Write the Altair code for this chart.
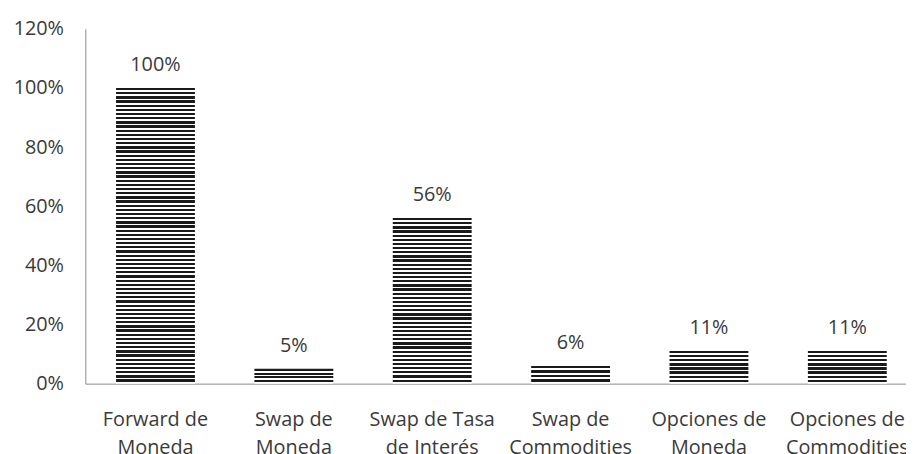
import altair as alt
import pandas as pd

categories = ["Forward de\nMoneda", "Swap de\nMoneda", "Swap de Tasa\nde Interés",
              "Swap de\nCommodities", "Opciones de\nMoneda", "Opciones de\nCommodities"]
values = [1.00, 0.05, 0.56, 0.06, 0.11, 0.11]
y_ticks = [0, 0.2, 0.4, 0.6, 0.8, 1.0, 1.2]

df = pd.DataFrame({"cat": categories, "val": values})

FONT = "Open Sans"
TXT = "#3a3a3a"
FS = 20
PLOT_H = 358
STRIPE_PX = 4.2


def stripe_gradient(v):
    h = v / 1.2 * PLOT_H
    n = max(1, round(h / STRIPE_PX))
    stops = []
    for i in range(n):
        a = i / n
        b = (i + 0.55) / n
        c = (i + 1) / n
        stops += [{"offset": a, "color": "#1a1a1a"}, {"offset": b, "color": "#1a1a1a"},
                  {"offset": b, "color": "#ffffff"}, {"offset": c, "color": "#ffffff"}]
    return {"gradient": "linear", "x1": 0, "y1": 0, "x2": 0, "y2": 1, "stops": stops}


x_scale = alt.Scale(domain=categories, paddingInner=0.43, paddingOuter=0.1806, align=0.615, round=False)

x_enc = alt.X("cat:N", sort=categories, scale=x_scale,
              axis=alt.Axis(title=None, labelAngle=0, labelExpr="split(datum.label, '\\n')",
                            ticks=False, domainColor="#8c8c8c", labelFont=FONT, labelFontSize=FS,
                            labelColor=TXT, labelPadding=26, labelLineHeight=28))
y_enc = alt.Y("val:Q", scale=alt.Scale(domain=[0, 1.2]),
              axis=alt.Axis(title=None, values=y_ticks, format=".0%", grid=False, ticks=False,
                            domainColor="#8c8c8c", labelFont=FONT, labelFontSize=FS,
                            labelColor=TXT, labelPadding=22))

layers = []
for c, v in zip(categories, values):
    layers.append(
        alt.Chart(df).transform_filter(alt.FieldEqualPredicate(field="cat", equal=c))
        .mark_bar(fill=stripe_gradient(v))
        .encode(x=x_enc, y=y_enc)
    )

text = alt.Chart(df).mark_text(baseline="alphabetic", dy=-17, font=FONT, fontSize=FS, color=TXT).encode(
    x=alt.X("cat:N", sort=categories, scale=x_scale),
    y="val:Q",
    text=alt.Text("val:Q", format=".0%"),
)

chart = alt.layer(*layers, text).properties(
    width=828, height=PLOT_H,
    padding={"left": 78, "top": 19, "right": 0, "bottom": 69},
    autosize="none",
    background="white",
).configure_view(stroke=None, strokeWidth=0)

chart.save("out.html", embed_options={"renderer": "svg", "actions": False})
